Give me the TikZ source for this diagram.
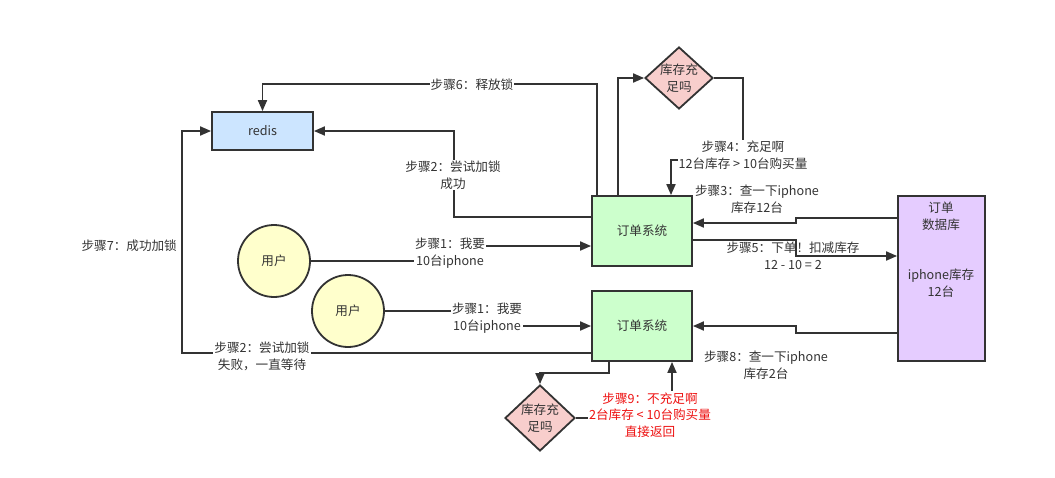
\documentclass[tikz,border=0pt]{standalone}
\usepackage{fontspec}
\setmainfont{Noto Sans CJK SC}
\usetikzlibrary{shapes.geometric,arrows.meta,calc}
\definecolor{linec}{HTML}{333333}
\definecolor{redisc}{HTML}{CCE5FF}
\definecolor{orderc}{HTML}{CCFFCC}
\definecolor{dbc}{HTML}{E5CCFF}
\definecolor{userc}{HTML}{FFFFCC}
\definecolor{diac}{HTML}{F8CECC}
\definecolor{redt}{HTML}{EE1111}
\tikzset{
  every node/.style={font=\fontsize{12.6pt}{16.8pt}\selectfont, text=linec},
  box/.style={draw=linec, line width=1.8pt, inner sep=0pt},
  usr/.style={draw=linec, line width=1.8pt, circle, fill=userc, minimum size=72pt, inner sep=0pt},
  dia/.style={draw=linec, line width=1.8pt, diamond, fill=diac, inner sep=0pt},
  arr/.style={draw=linec, line width=1.8pt, -{Triangle[length=11pt,width=9pt]}},
  lbl/.style={align=center, inner sep=1pt},
  wlbl/.style={align=center, inner sep=1pt, fill=white},
}
\begin{document}
\begin{tikzpicture}[x=1pt,y=-1pt]
\useasboundingbox (0,0) rectangle (1055,477);
% nodes
\node[box, fill=redisc, minimum width=101pt, minimum height=38pt] (redis) at (262.5,131) {redis};
\node[box, fill=orderc, minimum width=100pt, minimum height=70pt] (o1) at (642,231) {订单系统};
\node[box, fill=orderc, minimum width=100pt, minimum height=70pt] (o2) at (642,326) {订单系统};
\node[box, fill=dbc, minimum width=87pt, minimum height=165pt] (db) at (941.5,278.5) {};
\node[lbl] (dbt1) at (941,216) {订单\\数据库};
\node[lbl] (dbt2) at (941,283) {iphone库存\\12台};
\node[usr] (u1) at (274,261) {用户};
\node[usr] (u2) at (348,311) {用户};
\node[dia, minimum width=68pt, minimum height=62pt, label={[lbl]center:库存充\\足吗}] (d1) at (679,78) {};
\node[dia, minimum width=70pt, minimum height=66pt, label={[lbl]center:库存充\\足吗}] (d2) at (540,418) {};
% connectors
\draw[arr] ([xshift=6pt]o1.north west) -- ++(0,-111) -| (redis.north);
\draw[arr] ([yshift=14pt]o1.west) -| ($(redis.east)+(140,0)$) -- (redis.east);
\draw[arr] ([xshift=27pt]o1.north west) |- (d1.west);
\draw[arr] (d1.east) -| (743,160) -| ([xshift=29pt]o1.north);
\draw[arr] ([yshift=60.5pt]db.west) -| (796,223) -- ([yshift=8pt]o1.east);
\draw[arr] ([yshift=-9pt]o1.east) -| (796,256) -- ([yshift=22.5pt]db.west);
\draw[arr] (u1.east) -| (450,246) -- ([yshift=-15pt]o1.west);
\draw[arr] (u2.east) -| (487,326) -- (o2.west);
\draw[arr] ([yshift=-27pt]o2.west) -| (182,131) -- (redis.west);
\draw[arr] ([xshift=-33pt]o2.south) |- (540,373) -- (d2.north);
\draw[arr] (d2.east) -| ([xshift=30pt]o2.south);
\draw[arr] ([yshift=-54.5pt]db.west) -| (796,326) -- (o2.east);
% labels
\node[wlbl] (l6) at (472,85) {步骤6：释放锁};
\node[wlbl] (l2a) at (453,175) {步骤2：尝试加锁\\成功};
\node[wlbl] (l4) at (743,155) {步骤4：充足啊\\12台库存 > 10台购买量};
\node[lbl] (l3) at (757,199) {步骤3：查一下iphone\\库存12台};
\node[lbl] (l5) at (793,256) {步骤5：下单！扣减库存\\12 - 10 = 2};
\node[wlbl] (l1a) at (450,253) {步骤1：我要\\10台iphone};
\node[wlbl] (l1b) at (487,318) {步骤1：我要\\10台iphone};
\node[wlbl] (l2b) at (262,356) {步骤2：尝试加锁\\失败，一直等待};
\node[lbl, anchor=east] (l7) at (178,246) {步骤7：成功加锁};
\node[lbl] (l8) at (766,365) {步骤8：查一下iphone\\库存2台};
\node[wlbl, text=redt] (l9) at (650,415) {步骤9：不充足啊\\2台库存 < 10台购买量\\直接返回};
\end{tikzpicture}
\end{document}
